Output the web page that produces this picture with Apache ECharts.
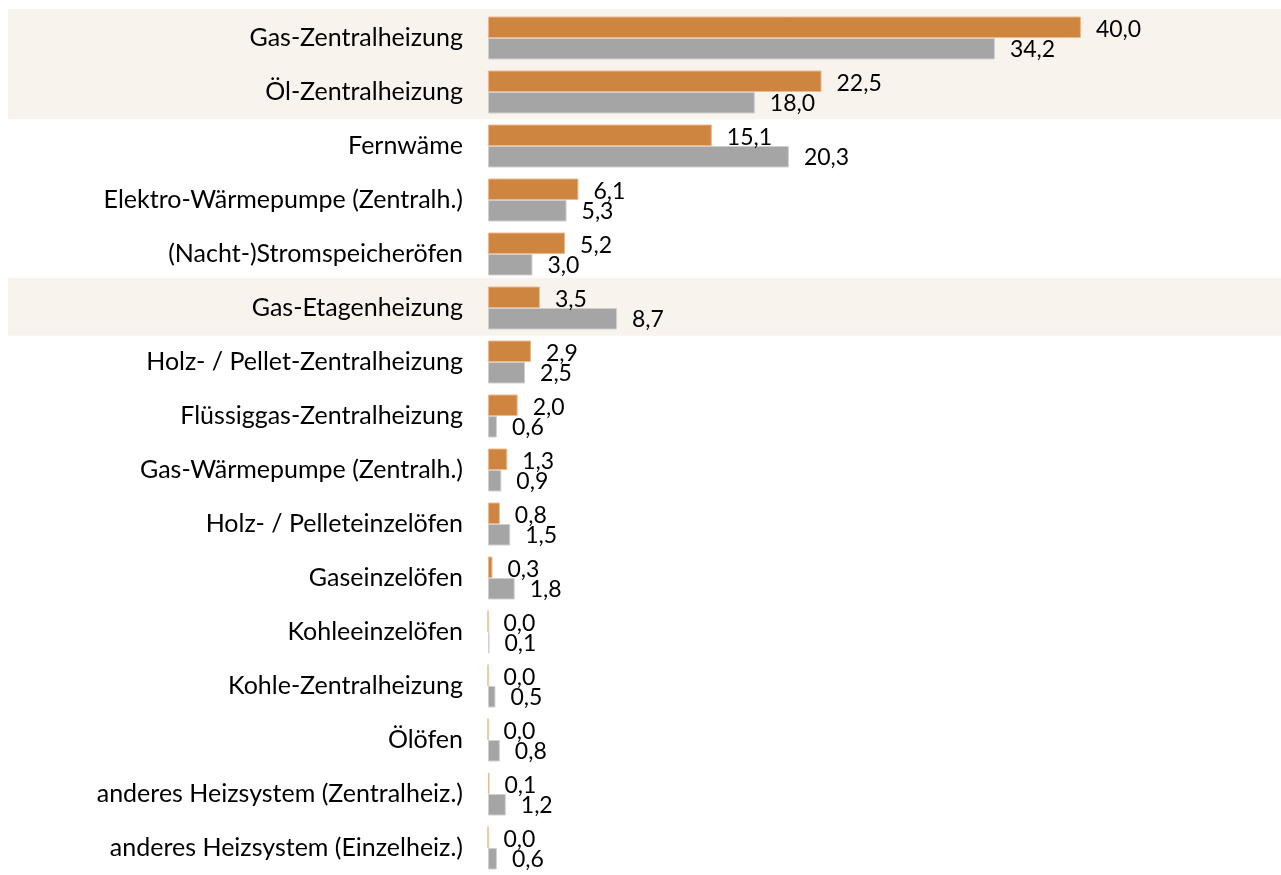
<!DOCTYPE html>
<html>
<head>
<meta charset="utf-8">
<script src="https://cdn.jsdelivr.net/npm/echarts@6/dist/echarts.min.js"></script>
<style>
  html, body {margin: 0; padding: 0; background: #fff;}
  #main {width: 1281px; height: 875px;}
</style>
</head>
<body>
<div id="main"></div>
<script>
// categories from top to bottom
const categories = [
    'Gas-Zentralheizung',
    'Öl-Zentralheizung',
    'Fernwäme',
    'Elektro-Wärmepumpe (Zentralh.)',
    '(Nacht-)Stromspeicheröfen',
    'Gas-Etagenheizung',
    'Holz- / Pellet-Zentralheizung',
    'Flüssiggas-Zentralheizung',
    'Gas-Wärmepumpe (Zentralh.)',
    'Holz- / Pelleteinzelöfen',
    'Gaseinzelöfen',
    'Kohleeinzelöfen',
    'Kohle-Zentralheizung',
    'Ölöfen',
    'anderes Heizsystem (Zentralheiz.)',
    'anderes Heizsystem (Einzelheiz.)'
];
const orangeValues = [40.0, 22.5, 15.1, 6.1, 5.2, 3.5, 2.9, 2.0, 1.3, 0.8, 0.3, 0.0, 0.0, 0.0, 0.1, 0.0];
const grayValues = [34.2, 18.0, 20.3, 5.3, 3.0, 8.7, 2.5, 0.6, 0.9, 1.5, 1.8, 0.1, 0.5, 0.8, 1.2, 0.6];
// rows with a shaded background
const highlighted = [1, 1, 0, 0, 0, 1, 0, 0, 0, 0, 0, 0, 0, 0, 0, 0];

const fontFamily = 'Lato, "Open Sans", sans-serif';
const fmt = p => p.value.toFixed(1).replace('.', ',');

const myChart = echarts.init(document.getElementById('main'));
myChart.setOption({
    animation: false,
    grid: [
        {left: 8, right: 0, top: 9, height: 869},
        {left: 488, right: 0, top: 11, height: 869}
    ],
    xAxis: [
        {gridIndex: 0, type: 'value', min: 0, max: 1, show: false},
        {gridIndex: 1, type: 'value', min: 0, max: 53.5, show: false}
    ],
    yAxis: [
        {gridIndex: 0, type: 'category', data: categories, inverse: true, show: false},
        {
            gridIndex: 1, type: 'category', data: categories, inverse: true,
            axisLine: {show: false},
            axisTick: {show: false},
            axisLabel: {color: '#000', fontSize: 25, fontFamily: fontFamily, margin: 25}
        }
    ],
    series: [
        {
            type: 'bar',
            xAxisIndex: 0, yAxisIndex: 0,
            data: highlighted,
            barWidth: 58,
            silent: true,
            z: 0,
            itemStyle: {color: '#F8F3ED'}
        },
        {
            type: 'bar',
            xAxisIndex: 1, yAxisIndex: 1,
            data: orangeValues,
            barWidth: 21.5,
            barGap: '0%',
            itemStyle: {color: '#CD853F', borderColor: '#EDB98C', borderWidth: 1},
            label: {
                show: true, position: 'right', distance: 15, offset: [0, 2], formatter: fmt,
                color: '#000', fontSize: 23, fontFamily: fontFamily
            }
        },
        {
            type: 'bar',
            xAxisIndex: 1, yAxisIndex: 1,
            data: grayValues,
            barWidth: 21.5,
            barGap: '0%',
            itemStyle: {color: '#A5A5A5', borderColor: '#CFCFCF', borderWidth: 1},
            label: {
                show: true, position: 'right', distance: 15, offset: [0, 1], formatter: fmt,
                color: '#000', fontSize: 23, fontFamily: fontFamily
            }
        }
    ]
});
</script>
</body>
</html>
